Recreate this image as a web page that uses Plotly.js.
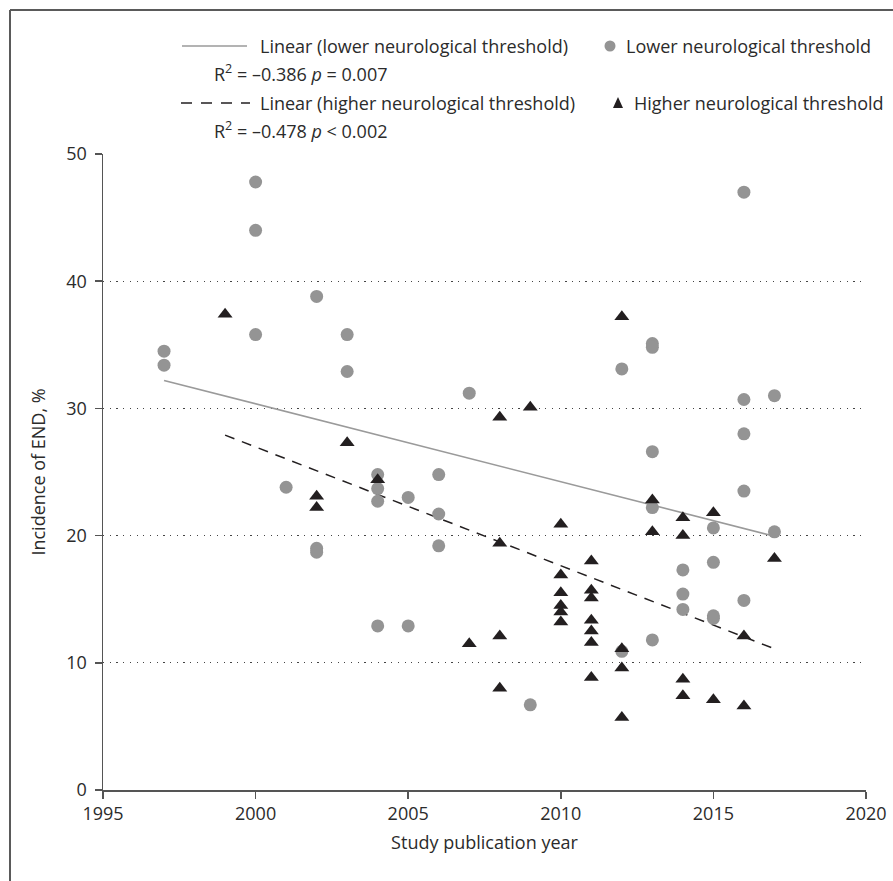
<!DOCTYPE html>
<html>
<head>
<meta charset="utf-8">
<script src="https://cdn.plot.ly/plotly-3.0.1.min.js"></script>
<style>
  html, body { margin: 0; padding: 0; background: #fff; }
  #chart { width: 893px; height: 881px; }
</style>
</head>
<body>
<div id="chart"></div>
<script>
// ---- Data ----
const lowerYears = [1997, 1997, 2000, 2000, 2000, 2001, 2002, 2002, 2002, 2003, 2003,
  2004, 2004, 2004, 2004, 2005, 2005, 2006, 2006, 2006, 2007, 2009, 2012, 2012,
  2013, 2013, 2013, 2013, 2013, 2014, 2014, 2014, 2015, 2015, 2015, 2015,
  2016, 2016, 2016, 2016, 2016, 2017, 2017];
const lowerIncidence = [34.5, 33.4, 47.8, 44.0, 35.8, 23.8, 38.8, 19.0, 18.7, 35.8, 32.9,
  24.8, 23.7, 22.7, 12.9, 23.0, 12.9, 24.8, 21.7, 19.2, 31.2, 6.7, 33.1, 10.9,
  35.1, 34.8, 26.6, 22.2, 11.8, 17.3, 15.4, 14.2, 20.6, 17.9, 13.7, 13.5,
  47.0, 30.7, 28.0, 23.5, 14.9, 31.0, 20.3];

const higherYears = [1999, 2002, 2002, 2003, 2004, 2007, 2008, 2008, 2008, 2008, 2009,
  2010, 2010, 2010, 2010, 2010, 2010,
  2011, 2011, 2011, 2011, 2011, 2011, 2011,
  2012, 2012, 2012, 2012, 2013, 2013, 2014, 2014, 2014, 2014,
  2015, 2015, 2016, 2016, 2017];
const higherIncidence = [37.4, 23.1, 22.2, 27.3, 24.4, 11.5, 29.3, 19.4, 12.1, 8.0, 30.1,
  20.9, 16.9, 15.5, 14.5, 14.0, 13.2,
  18.0, 15.7, 15.1, 13.35, 12.5, 11.6, 8.85,
  37.2, 11.1, 9.6, 5.7, 22.8, 20.3, 21.4, 20.0, 8.7, 7.4,
  21.8, 7.1, 12.1, 6.6, 18.2];

// Linear trend lines (end points as drawn)
const lowerTrendYears = [1997, 2017];
const lowerTrendValues = [32.2, 19.95];
const higherTrendYears = [1999, 2017];
const higherTrendValues = [27.9, 11.1];

const xTicks = [1995, 2000, 2005, 2010, 2015, 2020];
const yTicks = [0, 10, 20, 30, 40, 50];

const legendLower = "Linear (lower neurological threshold)";
const legendLowerStat = "R<sup>2</sup> = \u20130.386 <i>p</i> = 0.007";
const legendHigher = "Linear (higher neurological threshold)";
const legendHigherStat = "R<sup>2</sup> = \u20130.478 <i>p</i> &lt; 0.002";
const legendLowerPts = "Lower neurological threshold";
const legendHigherPts = "Higher neurological threshold";

// ---- Styles ----
const FONT = "Open Sans, Noto Sans, sans-serif";
const TXT = "#2b2b2b";
const GRAY = "#949494";
const BLACK = "#231f20";

// plot area in pixels: x 103..866, y 154..790
const L = 103, R = 866, T = 154, B = 790;
const px = v => (v - L) / (R - L);
const py = v => (B - v) / (B - T);

const traces = [
  {
    x: lowerTrendYears, y: lowerTrendValues, mode: "lines",
    line: { color: "#9a9a9a", width: 1.6 }, hoverinfo: "skip"
  },
  {
    x: higherTrendYears, y: higherTrendValues, mode: "lines",
    line: { color: BLACK, width: 1.5, dash: "10px,8px" }, hoverinfo: "skip"
  },
  {
    x: lowerYears, y: lowerIncidence, mode: "markers", name: legendLowerPts,
    marker: { symbol: "circle", size: 13, color: GRAY }
  },
  {
    x: higherYears, y: higherIncidence, mode: "markers", name: legendHigherPts,
    marker: { symbol: "triangle-up", size: 13, color: BLACK }
  }
];

const legendFont = { family: FONT, size: 18, color: TXT };
const ann = (text, x, y) => ({
  text, xref: "paper", yref: "paper", x: px(x), y: py(y),
  xanchor: "left", yanchor: "middle", showarrow: false, font: legendFont
});

const annotations = [
  ann(legendLower, 258, 46),
  ann(legendLowerPts, 624, 46),
  ann(legendLowerStat, 212, 73),
  ann(legendHigher, 258, 103),
  ann(legendHigherPts, 632, 103),
  ann(legendHigherStat, 212, 130)
];

const shapes = [
  // frame (top and left edges)
  { type: "line", xref: "paper", yref: "paper", x0: px(10), x1: px(893), y0: py(10), y1: py(10),
    line: { color: "#5a5a5a", width: 2 } },
  { type: "line", xref: "paper", yref: "paper", x0: px(10), x1: px(10), y0: py(10), y1: py(881),
    line: { color: "#5a5a5a", width: 2 } },
  // legend samples
  { type: "line", xref: "paper", yref: "paper", x0: px(182), x1: px(247), y0: py(46), y1: py(46),
    line: { color: "#9a9a9a", width: 1.6 } },
  { type: "line", xref: "paper", yref: "paper", x0: px(181), x1: px(250), y0: py(103), y1: py(103),
    line: { color: BLACK, width: 1.5, dash: "11px,9px" } },
  { type: "circle", xref: "paper", yref: "paper", xsizemode: "pixel", ysizemode: "pixel",
    xanchor: px(610), yanchor: py(46), x0: -5.5, x1: 5.5, y0: -5.5, y1: 5.5,
    fillcolor: GRAY, line: { width: 0 } },
  { type: "path", xref: "paper", yref: "paper", xsizemode: "pixel", ysizemode: "pixel",
    xanchor: px(618), yanchor: py(103), path: "M-5,-5 L5,-5 L0,6 Z",
    fillcolor: BLACK, line: { width: 0 } }
];

const axisCommon = {
  showline: true, linecolor: "#555", linewidth: 1.5,
  ticks: "outside", ticklen: 7, tickcolor: "#555", tickwidth: 1.5,
  tickfont: { family: FONT, size: 18, color: TXT },
  zeroline: false, fixedrange: true
};

const layout = {
  width: 893, height: 881,
  margin: { l: L, r: 893 - R, t: T, b: 881 - B, pad: 0 },
  paper_bgcolor: "#fff", plot_bgcolor: "#fff",
  showlegend: false,
  font: { family: FONT, color: TXT },
  xaxis: Object.assign({}, axisCommon, {
    range: [1995, 2020], tickvals: xTicks, ticktext: xTicks.map(String),
    showgrid: false,
    title: { text: "Study publication year", font: { family: FONT, size: 18, color: TXT }, standoff: 12 }
  }),
  yaxis: Object.assign({}, axisCommon, {
    range: [0, 50], tickvals: yTicks, ticktext: yTicks.map(String),
    showgrid: true, gridcolor: "#444", gridwidth: 1.2, griddash: "1.2px,5.5px",
    ticklabelstandoff: 4,
    title: { text: "Incidence of END, %", font: { family: FONT, size: 18, color: TXT }, standoff: 16 }
  }),
  annotations, shapes
};

Plotly.newPlot("chart", traces, layout, { staticPlot: true, displayModeBar: false });
</script>
</body>
</html>
